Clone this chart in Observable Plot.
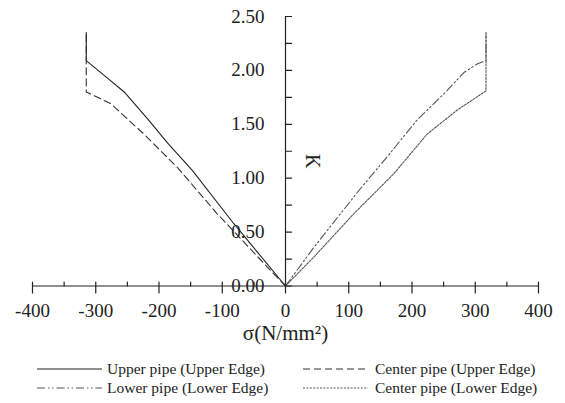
<!DOCTYPE html>
<html>
<head>
<meta charset="utf-8">
<script src="https://cdn.jsdelivr.net/npm/d3@7"></script>
<script src="https://cdn.jsdelivr.net/npm/@observablehq/plot@0.6"></script>
<style>
  html, body { margin: 0; padding: 0; background: #fff; }
  #chart { width: 565px; height: 403px; overflow: hidden; }
  svg { display: block; }
</style>
</head>
<body>
<div id="chart"></div>
<script>
// ---- data ----
const seriesNames = [
  "Upper pipe (Upper Edge)",
  "Center pipe (Upper Edge)",
  "Lower pipe (Lower Edge)",
  "Center pipe (Lower Edge)"
];
const upperUpperSigma = [0, -82, -147, -187, -218, -255, -282, -292, -315, -315];
const upperUpperK     = [0, 0.58, 1.07, 1.33, 1.55, 1.80, 1.93, 1.98, 2.09, 2.35];
const centerUpperSigma = [0, -18, -108, -171, -224, -276, -315, -315];
const centerUpperK     = [0, 0.11, 0.67, 1.10, 1.41, 1.69, 1.80, 2.35];
const lowerLowerSigma = [0, 45, 118, 161, 208, 250, 282, 303, 317, 317];
const lowerLowerK     = [0, 0.36, 0.90, 1.20, 1.54, 1.78, 1.98, 2.06, 2.09, 2.35];
const centerLowerSigma = [0, 45, 108, 171, 224, 271, 317, 317];
const centerLowerK     = [0, 0.27, 0.67, 1.04, 1.41, 1.63, 1.81, 2.35];

const xMajorTicks = [-400, -300, -200, -100, 0, 100, 200, 300, 400];
const xMinorTicks = [-350, -250, -150, -50, 50, 150, 250, 350];
const yTicks = [0, 0.25, 0.5, 0.75, 1, 1.25, 1.5, 1.75, 2, 2.25, 2.5];
const yLabelTicks = [0, 0.5, 1, 1.5, 2, 2.5];
const xTitle = "σ(N/mm²)";
const yTitle = "K";

// ---- styles ----
const styles = [
  {stroke: "#222", dash: null, width: 1.1},
  {stroke: "#333", dash: "7,4", width: 1.1},
  {stroke: "#555", dash: "8,3,1.5,2.5,1.5,3", width: 1.1},
  {stroke: "#555", dash: "2,1.4", width: 1.1}
];

const rows = (s, k) => s.map((v, i) => ({s: v, k: k[i]}));
const series = [
  rows(upperUpperSigma, upperUpperK),
  rows(centerUpperSigma, centerUpperK),
  rows(lowerLowerSigma, lowerLowerK),
  rows(centerLowerSigma, centerLowerK)
];

const tickShape = {draw(context, l) { context.moveTo(0, 0); context.lineTo(0, -l); }};
const axisColor = "#222";
const font = "'Liberation Serif', 'Times New Roman', serif";

const plot = Plot.plot({
  width: 565,
  height: 355,
  marginTop: 16,
  marginLeft: 32,
  marginRight: 27,
  marginBottom: 69.5,
  x: {domain: [-400, 400], axis: null},
  y: {domain: [0, 2.5], axis: null},
  style: {fontFamily: font, fontSize: "19px", background: "#fff", color: "#222"},
  marks: [
    ...series.map((d, i) => Plot.line(d, {
      x: "s", y: "k",
      stroke: styles[i].stroke,
      strokeWidth: styles[i].width,
      strokeDasharray: styles[i].dash
    })),
    Plot.ruleY([0], {stroke: axisColor, strokeWidth: 1.2}),
    Plot.ruleX([0], {stroke: axisColor, strokeWidth: 1.2}),
    Plot.vector(yTicks, {x: 0, y: d => d, rotate: 90, length: 6, anchor: "start", shape: tickShape, stroke: axisColor, strokeWidth: 1.2}),
    Plot.vector(xMajorTicks, {x: d => d, y: 0, dy: -4, rotate: 180, length: 11, anchor: "start", shape: tickShape, stroke: axisColor, strokeWidth: 1.2}),
    Plot.vector(xMinorTicks, {x: d => d, y: 0, rotate: 0, length: 4, anchor: "start", shape: tickShape, stroke: axisColor, strokeWidth: 1.2}),
    Plot.text(yLabelTicks, {x: 0, y: d => d, dx: -21, textAnchor: "end", text: d => d.toFixed(2), fill: "#222"}),
    Plot.text(xMajorTicks, {x: d => d, y: 0, dy: 25, text: d => String(d), fill: "#222"}),
    Plot.text([xTitle], {frameAnchor: "bottom", dy: 53.5, text: d => d, fontSize: 21, fill: "#222"}),
    Plot.text([yTitle], {frameAnchor: "middle", dx: 26.5, dy: 10, rotate: 90, text: d => d, fontSize: 20, fill: "#222"})
  ]
});
document.getElementById("chart").appendChild(plot);

// ---- legend below the plot ----
const legend = d3.create("svg").attr("width", 565).attr("height", 48)
  .style("font-family", font).style("font-size", "15.5px");
const pos = [
  {x1: 37, x2: 102, tx: 107, y: 14},
  {x1: 303, x2: 368, tx: 375, y: 14},
  {x1: 37, x2: 102, tx: 107, y: 33},
  {x1: 303, x2: 368, tx: 375, y: 33}
];
seriesNames.forEach((name, i) => {
  const p = pos[i];
  legend.append("line").attr("x1", p.x1).attr("x2", p.x2).attr("y1", p.y).attr("y2", p.y)
    .attr("stroke", styles[i].stroke).attr("stroke-width", 1.1)
    .attr("stroke-dasharray", styles[i].dash);
  legend.append("text").attr("x", p.tx).attr("y", p.y).attr("dy", "0.35em")
    .attr("fill", "#222").text(name);
});
document.getElementById("chart").appendChild(legend.node());
</script>
</body>
</html>
